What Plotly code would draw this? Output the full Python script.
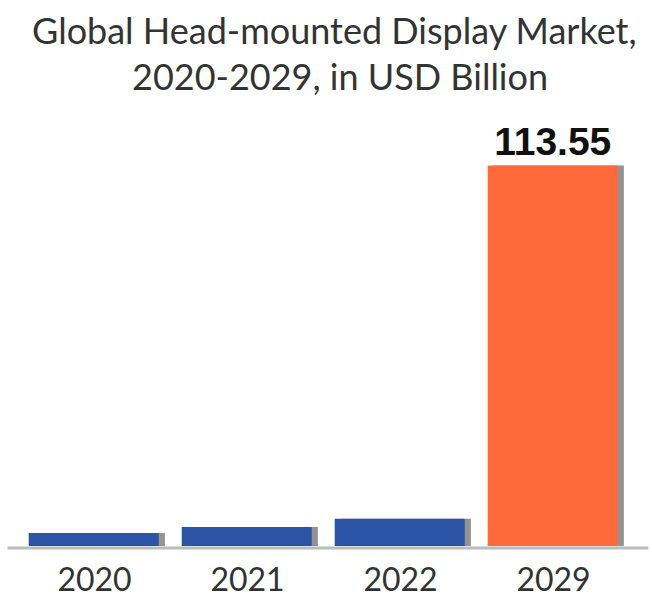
import plotly.graph_objects as go

years = ["2020", "2021", "2022", "2029"]
values = [3.9, 5.7, 8.1, 113.55]
bar_colors = ["#2B54A6", "#2B54A6", "#2B54A6", "#FF6A3D"]
labels = ["", "", "", "113.55"]
title_lines = ["Global Head-mounted Display Market,", "2020-2029, in USD Billion"]

fig = go.Figure()

# soft shadow behind bars
fig.add_trace(go.Bar(
    x=years, y=values, width=0.85, offset=-0.39,
    marker=dict(color="rgba(40,40,40,0.5)", line=dict(width=0)),
    hoverinfo="skip", showlegend=False,
))
fig.add_trace(go.Bar(
    x=years, y=values, width=0.85, offset=-0.43,
    marker=dict(color=bar_colors, line=dict(width=0)),
    text=labels, textposition="outside", cliponaxis=False,
    textfont=dict(family="Liberation Sans", size=39, color="#111111", weight="bold"),
    showlegend=False,
))

fig.update_layout(
    width=652, height=597,
    barmode="overlay",
    paper_bgcolor="white", plot_bgcolor="white",
    margin=dict(l=18, r=22, t=144, b=51, autoexpand=False),
    xaxis=dict(
        showgrid=False, zeroline=False, showline=False, automargin=False,
        ticks="", ticklabelstandoff=12,
        tickfont=dict(family="Lato", size=32, color="#333333"),
        range=[-0.5, 3.5],
    ),
    yaxis=dict(visible=False, range=[0, 120]),
    annotations=[
        dict(text=title_lines[0], xref="paper", yref="paper", x=0.517, y=1.2836,
             xanchor="center", yanchor="middle", showarrow=False,
             font=dict(family="Lato", size=36, color="#333333")),
        dict(text=title_lines[1], xref="paper", yref="paper", x=0.526, y=1.168,
             xanchor="center", yanchor="middle", showarrow=False,
             font=dict(family="Lato", size=36, color="#333333")),
    ],
    shapes=[dict(
        type="line", xref="paper", yref="paper",
        x0=-0.017, x1=1.03, y0=-0.005, y1=-0.005,
        line=dict(color="#BBBBBB", width=3),
        layer="below",
    )],
)

fig.write_html("out.html")
